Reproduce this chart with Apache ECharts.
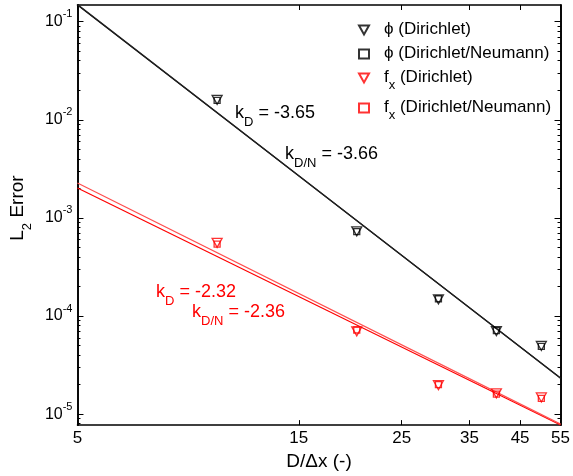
<!DOCTYPE html>
<html>
<head>
<meta charset="utf-8">
<script src="https://cdn.jsdelivr.net/npm/echarts@6/dist/echarts.min.js"></script>
<style>
html, body { margin: 0; padding: 0; background: #fff; }
#chart { width: 573px; height: 476px; }
</style>
</head>
<body>
<div id="chart"></div>
<script>
// 网格数 D/Δx
const xVals = [10, 20, 30, 40, 50];
// 误差数据
const phiD = [0.0160, 7.31e-4, 1.48e-4, 7.03e-5, 4.95e-5];
const phiDN = [0.0158, 7.25e-4, 1.50e-4, 7.10e-5, 4.90e-5];
const fxD = [5.57e-4, 6.98e-5, 1.97e-5, 1.63e-5, 1.48e-5];
const fxDN = [5.40e-4, 7.20e-5, 2.00e-5, 1.60e-5, 1.45e-5];

// 拟合直线端点
const fitX = [5, 55];
const fitPhiD = [0.148, 2.34e-5];
const fitPhiDN = [0.150, 2.32e-5];
const fitFxD = [2.02e-3, 7.75e-6];
const fitFxDN = [2.27e-3, 7.91e-6];

// 刻度
const xTicks = [5, 15, 25, 35, 45, 55];
const yTicks = [1e-5, 1e-4, 1e-3, 1e-2, 1e-1];
const yMin = 7.73e-6;
const yMax = 0.148;

// 次刻度 2..9 x 10^n
const yMinor = [];
[-6, -5, -4, -3, -2, -1].forEach(e => {
    [2, 3, 4, 5, 6, 7, 8, 9].forEach(m => {
        const v = m * Math.pow(10, e);
        if (v > yMin && v < yMax) yMinor.push(v);
    });
});

const chart = echarts.init(document.getElementById('chart'));

const FONT = 'Liberation Sans, Arial, sans-serif';
const triDown = 'path://M0,0L10,0L5,9Z';
const square = 'rect';

function pairs(xs, ys) {
    return xs.map((x, i) => [x, ys[i]]);
}

function markerSeries(name, ys, color, symbol, size) {
    return {
        name: name,
        type: 'scatter',
        data: pairs(xVals, ys),
        symbol: symbol,
        symbolSize: size,
        itemStyle: { color: 'rgba(0,0,0,0)', borderColor: color, borderWidth: 1.3 },
        z: 5
    };
}

function fitSeries(name, ys, color) {
    return {
        name: name,
        type: 'line',
        data: pairs(fitX, ys),
        symbol: 'none',
        lineStyle: { color: color, width: 1.2 },
        silent: true,
        z: 3
    };
}

// 下标样式：负的底部 padding 把文字往下压
function subStyle(size, drop, color) {
    return { fontSize: size, lineHeight: size, verticalAlign: 'bottom', padding: [0, 0, -drop, 0], fontFamily: FONT, color: color, fill: color };
}
function mainStyle(size, lh, color) {
    return { fontSize: size, lineHeight: lh, verticalAlign: 'top', fontFamily: FONT, color: color, fill: color };
}

const axisLineStyle = { lineStyle: { color: '#000', width: 1.6 } };

function yAxisBase(pos, tickVals, len, showLabel) {
    const ax = {
        type: 'log',
        logBase: 10,
        min: yMin,
        max: yMax,
        position: pos,
        axisLine: { show: true, onZero: false, lineStyle: { color: '#000', width: 1.6 } },
        axisTick: { show: true, inside: true, length: len, customValues: tickVals, lineStyle: { color: '#000', width: 1 } },
        axisLabel: { show: false },
        splitLine: { show: false }
    };
    if (showLabel) {
        ax.axisLabel = {
            show: true,
            customValues: yTicks,
            margin: 5,
            color: '#000',
            fontFamily: FONT,
            formatter: v => '{b|10}{s|' + Math.round(Math.log10(v)) + '}',
            rich: {
                b: { fontSize: 16, lineHeight: 16, verticalAlign: 'bottom', fontFamily: FONT, color: '#000' },
                s: { fontSize: 11, lineHeight: 11, verticalAlign: 'top', padding: [-5, 0, 0, 0], fontFamily: FONT, color: '#000' }
            }
        };
        ax.name = '{m|L}{sub|2}{m| Error}';
        ax.nameLocation = 'middle';
        ax.nameGap = 42;
        ax.nameRotate = 90;
        ax.nameTextStyle = {
            fontSize: 19, fontFamily: FONT, color: '#000', padding: [0, 0, 0, 14],
            rich: {
                m: mainStyle(19, 20, '#000'),
                sub: subStyle(13, 6, '#000')
            }
        };
    }
    return ax;
}

function note(x, y, main, sub, tail, color) {
    return {
        type: 'text',
        x: x,
        y: y,
        silent: true,
        style: {
            text: '{m|' + main + '}{sub|' + sub + '}{m|' + tail + '}',
            rich: { m: mainStyle(18, 18, color), sub: subStyle(13, 7, color) },
            fill: color,
            align: 'left',
            verticalAlign: 'top'
        },
        z: 10
    };
}

const option = {
    animation: false,
    backgroundColor: '#fff',
    textStyle: { fontFamily: FONT },
    grid: { left: 76, right: 10, top: 5, bottom: 50 },
    legend: {
        orient: 'vertical',
        left: 353,
        top: 16,
        itemWidth: 10,
        itemHeight: 9,
        itemGap: 7,
        selectedMode: false,
        data: [
            { name: 'ϕ (Dirichlet)', icon: triDown },
            { name: 'ϕ (Dirichlet/Neumann)', icon: square },
            { name: 'f_x (Dirichlet)', icon: triDown },
            { name: 'f_x (Dirichlet/Neumann)', icon: square }
        ],
        formatter: name => name.indexOf('f_x') === 0
            ? '{m|f}{sub|x}{m|' + name.slice(3) + '}'
            : '{m|' + name + '}',
        textStyle: {
            padding: [0, 0, 0, 10],
            color: '#000',
            rich: {
                m: mainStyle(17, 18, '#000'),
                sub: subStyle(13, 5, '#000')
            }
        }
    },
    xAxis: [
        {
            type: 'log',
            logBase: 10,
            min: 5,
            max: 55,
            position: 'bottom',
            axisLine: Object.assign({ onZero: false }, axisLineStyle),
            axisTick: { inside: true, length: 5, customValues: xTicks, lineStyle: { color: '#000' } },
            axisLabel: { customValues: xTicks, color: '#000', fontSize: 17, fontFamily: FONT, margin: 5 },
            splitLine: { show: false },
            name: 'D/Δx (-)',
            nameLocation: 'middle',
            nameGap: 22,
            nameTextStyle: { fontSize: 19, fontFamily: FONT, color: '#000' }
        },
        {
            type: 'log',
            logBase: 10,
            min: 5,
            max: 55,
            position: 'top',
            axisLine: Object.assign({ onZero: false }, axisLineStyle),
            axisTick: { inside: true, length: 5, customValues: xTicks, lineStyle: { color: '#000' } },
            axisLabel: { show: false },
            splitLine: { show: false }
        }
    ],
    yAxis: [
        yAxisBase('left', yTicks, 6, true),
        yAxisBase('left', yMinor, 3, false),
        yAxisBase('right', yTicks, 6, false),
        yAxisBase('right', yMinor, 3, false)
    ],
    series: [
        fitSeries('fit phi D', fitPhiD, '#000'),
        fitSeries('fit phi DN', fitPhiDN, '#222'),
        fitSeries('fit fx D', fitFxD, '#ff0000'),
        fitSeries('fit fx DN', fitFxDN, '#ff5050'),
        markerSeries('ϕ (Dirichlet/Neumann)', phiDN, '#000', square, 6),
        markerSeries('f_x (Dirichlet/Neumann)', fxDN, '#ff0000', square, 6),
        markerSeries('ϕ (Dirichlet)', phiD, '#000', triDown, [10, 9]),
        markerSeries('f_x (Dirichlet)', fxD, '#ff0000', triDown, [10, 9])
    ],
    graphic: [
        note(235, 104, 'k', 'D', ' = -3.65', '#000'),
        note(285, 145, 'k', 'D/N', ' = -3.66', '#000'),
        note(156, 283, 'k', 'D', ' = -2.32', '#ff0000'),
        note(192, 303, 'k', 'D/N', ' = -2.36', '#ff0000')
    ]
};

chart.setOption(option);
</script>
</body>
</html>
